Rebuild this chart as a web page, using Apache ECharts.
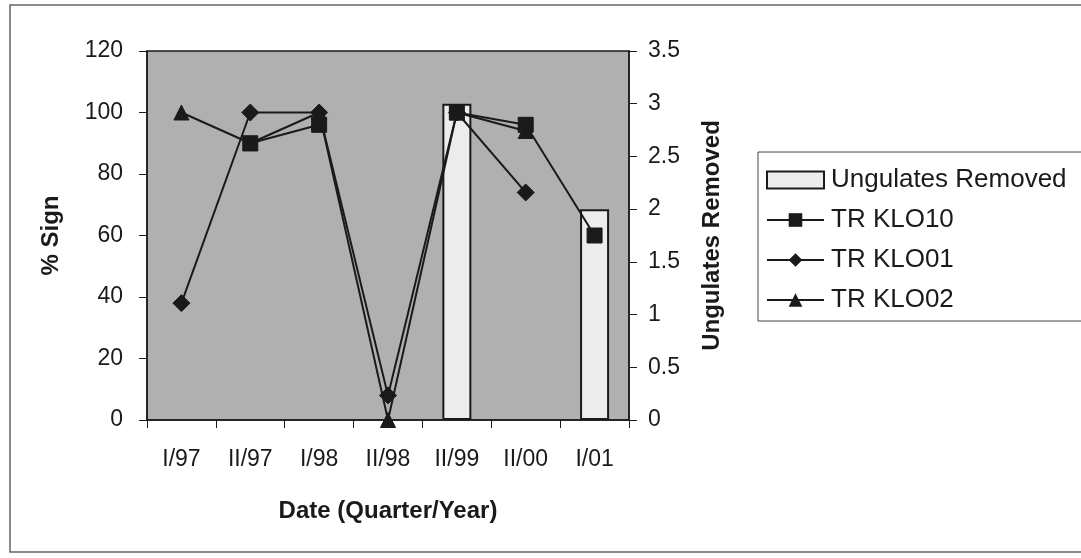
<!DOCTYPE html>
<html>
<head>
<meta charset="utf-8">
<script src="https://cdn.jsdelivr.net/npm/echarts@6/dist/echarts.min.js"></script>
<style>
  html, body { margin: 0; padding: 0; background: #fff; }
  #main { width: 1081px; height: 558px; }
</style>
</head>
<body>
<div id="main"></div>
<script>
// data
const quarters = ['I/97', 'II/97', 'I/98', 'II/98', 'II/99', 'II/00', 'I/01']
const ungulatesRemoved = ['-', '-', '-', '-', 3, '-', 2]
const klo10 = ['-', 90, 96, '-', 100, 96, 60]
const klo01 = [38, 100, 100, 8, 100, 74, '-']
const klo02 = [100, 90, 100, 0, 100, 94, '-']
const signTicks = { min: 0, max: 120, interval: 20 }
const removedTicks = { min: 0, max: 3.5, interval: 0.5 }

const font = 'Liberation Sans, Arial, sans-serif'
const ink = '#1a1a1a'

function lineSeries (name, data, symbol, size) {
  return {
    name: name,
    type: 'line',
    data: data,
    yAxisIndex: 0,
    symbol: symbol,
    symbolSize: size,
    connectNulls: false,
    z: 5,
    lineStyle: { color: ink, width: 2 },
    itemStyle: { color: ink, borderColor: ink },
    emphasis: { disabled: true }
  }
}

const option = {
  backgroundColor: '#fff',
  animation: false,
  textStyle: { fontFamily: font, color: ink },
  graphic: [
    {
      type: 'rect',
      shape: { x: 10, y: 5, width: 1090, height: 547 },
      style: { fill: 'none', stroke: '#666', lineWidth: 1.5 },
      silent: true
    }
  ],
  grid: {
    left: 147,
    right: 452,
    top: 51,
    bottom: 138,
    show: true,
    backgroundColor: '#b0b0b0',
    borderColor: ink,
    borderWidth: 1.5
  },
  legend: {
    orient: 'vertical',
    left: 758,
    top: 152,
    width: 330,
    padding: [15, 40, 8, 8],
    itemWidth: 57,
    itemHeight: 17,
    itemGap: 14,
    borderColor: '#444',
    borderWidth: 1,
    textStyle: { fontFamily: font, fontSize: 26, color: ink, padding: [0, 0, 0, 2] },
    data: [
      { name: 'Ungulates Removed', icon: 'rect', itemStyle: { color: '#ececec', borderColor: ink, borderWidth: 2 } },
      'TR KLO10',
      'TR KLO01',
      'TR KLO02'
    ]
  },
  xAxis: {
    type: 'category',
    data: quarters,
    boundaryGap: true,
    name: 'Date (Quarter/Year)',
    nameLocation: 'middle',
    nameGap: 79,
    nameTextStyle: { fontFamily: font, fontSize: 24, fontWeight: 'bold', color: ink },
    axisLine: { lineStyle: { color: ink, width: 1.5 } },
    axisTick: { show: true, length: 8, lineStyle: { color: ink } },
    axisLabel: { fontFamily: font, fontSize: 23, color: ink, margin: 28 }
  },
  yAxis: [
    {
      type: 'value',
      min: signTicks.min,
      max: signTicks.max,
      interval: signTicks.interval,
      name: '% Sign',
      nameLocation: 'middle',
      nameRotate: 90,
      nameGap: 84,
      nameTextStyle: { fontFamily: font, fontSize: 24, fontWeight: 'bold', color: ink },
      axisLine: { show: true, lineStyle: { color: ink, width: 1.5 } },
      axisTick: { show: true, length: 8, lineStyle: { color: ink } },
      axisLabel: { fontFamily: font, fontSize: 23, color: ink, margin: 24 },
      splitLine: { show: false }
    },
    {
      type: 'value',
      position: 'right',
      min: removedTicks.min,
      max: removedTicks.max,
      interval: removedTicks.interval,
      name: 'Ungulates Removed',
      nameLocation: 'middle',
      nameRotate: 90,
      nameGap: 71,
      nameTextStyle: { fontFamily: font, fontSize: 24, fontWeight: 'bold', color: ink },
      axisLine: { show: true, lineStyle: { color: ink, width: 1.5 } },
      axisTick: { show: true, length: 8, lineStyle: { color: ink } },
      axisLabel: { fontFamily: font, fontSize: 23, color: ink, margin: 19 },
      splitLine: { show: false }
    }
  ],
  series: [
    {
      name: 'Ungulates Removed',
      type: 'bar',
      data: ungulatesRemoved,
      yAxisIndex: 1,
      barWidth: 29,
      z: 2,
      itemStyle: { color: '#ececec', borderColor: ink, borderWidth: 2 },
      emphasis: { disabled: true }
    },
    lineSeries('TR KLO10', klo10, 'rect', 15),
    lineSeries('TR KLO01', klo01, 'diamond', 17),
    lineSeries('TR KLO02', klo02, 'triangle', 15)
  ]
}

echarts.init(document.getElementById('main')).setOption(option)
</script>
</body>
</html>
